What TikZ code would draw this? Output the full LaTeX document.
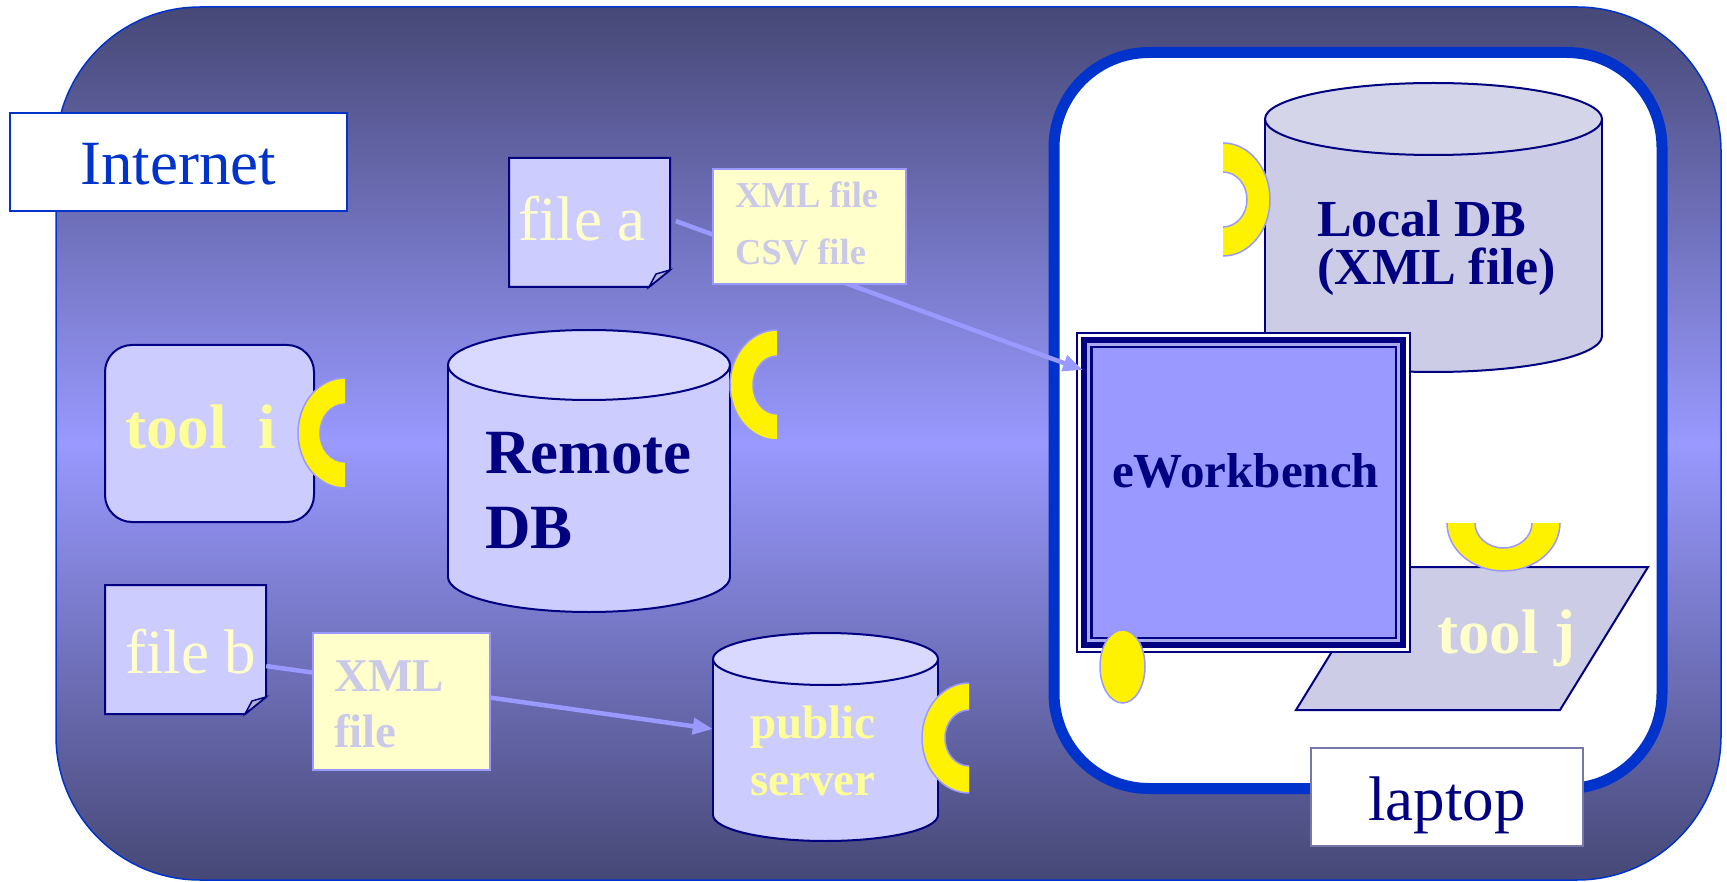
\documentclass[tikz,border=0pt]{standalone}
\usepackage{fontspec}
\setmainfont{Liberation Serif}
\usetikzlibrary{arrows.meta,shapes.geometric}
\definecolor{navy}{HTML}{000080}
\definecolor{royal}{HTML}{0033CC}
\definecolor{lav}{HTML}{CCCCFF}
\definecolor{lavtop}{HTML}{D9D9FF}
\definecolor{peri}{HTML}{9999FF}
\definecolor{grayl}{HTML}{CCCCE6}
\definecolor{graylt}{HTML}{D5D5EA}
\definecolor{paley}{HTML}{FFFFCC}
\definecolor{yel}{HTML}{FFFF99}
\definecolor{bgdark}{HTML}{464876}
\definecolor{lblgray}{HTML}{7777AA}
\definecolor{foldgray}{HTML}{B4B4D2}
\definecolor{lavframe}{HTML}{AAAAEE}
\definecolor{lbltext}{HTML}{CACAE8}

\tikzset{
  txt/.style={inner sep=0pt, anchor=base west},
  cylline/.style={draw=navy, line width=2pt},
  ringsty/.style={fill=yellow, draw=peri, line width=1.5pt},
  conn/.style={draw=peri, line width=4.5pt, -{Triangle[length=20pt,width=16pt]}},
  lblbox/.style={fill=paley, draw=peri, line width=1.5pt},
  f63/.style={font=\fontsize{63}{75}\selectfont},
  b63/.style={font=\fontsize{63}{75}\selectfont\bfseries},
  b52/.style={font=\fontsize{52}{60}\selectfont\bfseries},
  b49/.style={font=\fontsize{49}{60}\selectfont\bfseries},
  b47/.style={font=\fontsize{47}{56}\selectfont\bfseries},
  b36/.style={font=\fontsize{36.5}{44}\selectfont\bfseries},
}

% x0, x1, top-centre y, bottom-centre y, ry, body colour, top colour, name
\newcommand\mycyl[8]{%
  \pgfmathsetmacro\cylcx{(#1+#2)/2}%
  \pgfmathsetmacro\cylrx{(#2-#1)/2}%
  \pgfmathsetmacro\cylcy{(#3+#4)/2}%
  \pgfmathsetmacro\cylw{#2-#1}%
  \pgfmathsetmacro\cylh{#4-#3+2*#5}%
  \fill[#6] (#1,#3) rectangle (#2,#4);
  \fill[#6] (\cylcx,#4) ellipse[x radius=\cylrx, y radius=#5];
  \begin{scope}
    \clip (#1-5,#4) rectangle (#2+5,#4+#5+5);
    \draw[cylline] (\cylcx,#4) ellipse[x radius=\cylrx, y radius=#5];
  \end{scope}
  \draw[cylline] (#1,#3) -- (#1,#4) (#2,#3) -- (#2,#4);
  \filldraw[fill=#7, cylline] (\cylcx,#3) ellipse[x radius=\cylrx, y radius=#5];
  \node[inner sep=0pt, draw=none, minimum width=\cylw pt, minimum height=\cylh pt] (#8) at (\cylcx,\cylcy) {};
}

% cx, cy, outer rx, outer ry, inner rx, inner ry, clip corner a, clip corner b
\newcommand\myring[8]{%
  \begin{scope}
    \clip #7 rectangle #8;
    \filldraw[ringsty, even odd rule] (#1,#2) ellipse[x radius=#3, y radius=#4]
      (#1,#2) ellipse[x radius=#5, y radius=#6];
  \end{scope}
}

% x0, y0, x1, y1, name
\newcommand\myfile[5]{%
  \filldraw[fill=lav, draw=navy, line width=2pt] (#1,#2) -- (#3,#2) -- (#3,#4-17) -- (#3-21,#4) -- (#1,#4) -- cycle;
  \filldraw[fill=foldgray, draw=navy, line width=1.5pt] (#3-21,#4) -- (#3-14,#4-13) -- (#3,#4-17) -- cycle;
  \pgfmathsetmacro\filw{#3-#1}%
  \pgfmathsetmacro\filh{#4-#2}%
  \node[inner sep=0pt, draw=none, minimum width=\filw pt, minimum height=\filh pt] (#5) at ({(#1+#3)/2},{(#2+#4)/2}) {};
}

\begin{document}
\begin{tikzpicture}[x=1pt, y=-1pt]
\useasboundingbox (0,0) rectangle (1727,882);

% Internet area
\path[top color=bgdark, bottom color=bgdark, middle color=peri, rounded corners=144pt] (56,7) rectangle (1721,880);
\draw[royal, line width=1.5pt, rounded corners=144pt] (56,7) rectangle (1721,880);

% Internet label
\node[fill=white, draw=royal, line width=2pt, inner sep=0pt, minimum width=337pt, minimum height=98pt] (inetbox) at (178.5,162) {};
\node[txt, f63, text=royal] (inet) at (80,185) {Internet};

% laptop
\draw[royal, line width=11pt, fill=white, rounded corners=95pt] (1054,52.5) rectangle (1662,788.5);

% Local DB
\mycyl{1265}{1602}{119}{336}{36}{grayl}{graylt}{localdb}
\node[txt, b52, text=navy] (localdbt1) at (1317,237) {Local DB};
\node[txt, b52, text=navy] (localdbt2) at (1317,285) {(XML file)};
\myring{1223}{199.5}{47}{56.5}{24}{27.5}{(1223,130)}{(1280,270)}

% tool j
\filldraw[fill=grayl, draw=navy, line width=2pt] (1384,567) -- (1648,567) -- (1560,710) -- (1296,710) -- cycle;
\node[inner sep=0pt, draw=none, minimum width=264pt, minimum height=143pt] (toolj) at (1472,638.5) {};
\node[txt, b63, text=paley] (toolj-t) at (1437,653) {tool j};
\myring{1503.5}{523}{56.5}{48}{28.5}{25}{(1440,523)}{(1570,580)}

% eWorkbench
\node[fill=white, draw=navy, line width=2pt, inner sep=0pt, minimum width=333pt, minimum height=319pt] (ewb) at (1243.5,492.5) {};
\fill[navy] (1081,337) rectangle (1406,648);
\fill[lavframe] (1087,343) rectangle (1400,642);
\fill[navy] (1090,346) rectangle (1397,639);
\fill[peri] (1092.5,348.5) rectangle (1394.5,636.5);
\node[txt, b49, text=navy] (ewbt) at (1112,487) {eWorkbench};
\node[ellipse, fill=yellow, draw=peri, line width=1.5pt, inner sep=0pt, minimum width=45pt, minimum height=73pt] (plug) at (1122.5,666.5) {};

% laptop label
\node[fill=white, draw=lblgray, line width=1.5pt, inner sep=0pt, minimum width=272pt, minimum height=98pt] (lapbox) at (1447,797) {};
\node[txt, f63, text=navy] (lapt) at (1368,820) {laptop};

% tool i
\filldraw[fill=lav, draw=navy, line width=2pt, rounded corners=27pt] (105,345) rectangle (314,522);
\node[inner sep=0pt, draw=none, minimum width=209pt, minimum height=177pt] (tooli) at (209.5,433.5) {};
\node[txt, b63, text=yel] (toolit) at (125,448) {tool\ \ i};
\myring{345}{433}{47}{55}{25}{29}{(290,370)}{(345,495)}

% Remote DB
\mycyl{448}{730}{365}{577}{35}{lav}{lavtop}{remotedb}
\node[txt, b63, text=navy] (remotet1) at (485,473) {Remote};
\node[txt, b63, text=navy] (remotet2) at (485,548) {DB};
\myring{777}{385}{47}{55}{24}{29}{(720,320)}{(777,450)}

% public server
\mycyl{713}{938}{659}{815}{26}{lav}{lavtop}{pubsrv}
\node[txt, b47, text=yel] (pubt1) at (750,738) {public};
\node[txt, b47, text=yel] (pubt2) at (750,795) {server};
\myring{969}{738}{47}{55}{24}{28}{(910,670)}{(969,805)}

% files
\myfile{509}{158}{670}{287}{filea}
\node[txt, f63, text=paley] (fileat) at (518,241) {file a};
\myfile{105}{585}{266}{714}{fileb}
\node[txt, f63, text=paley] (filebt) at (125,673) {file b};

% connectors
\coordinate (faout) at ([yshift=3.5pt]filea.east);
\coordinate (ewbin) at (1083,370);
\draw[conn, shorten <=6pt] (faout) -- (ewbin);
\coordinate (fbout) at ([yshift=-16.5pt]fileb.east);
\coordinate (psin) at ([yshift=8pt]pubsrv.west);
\draw[conn] (fbout) -- (psin);

% connector labels
\node[lblbox, inner sep=0pt, minimum width=193pt, minimum height=115pt] (lbl1) at (809.5,226.5) {};
\node[txt, b36, text=lbltext] (lbl1a) at (735,208) {XML file};
\node[txt, b36, text=lbltext] (lbl1b) at (735,265) {CSV file};
\node[lblbox, inner sep=0pt, minimum width=177pt, minimum height=137pt] (lbl2) at (401.5,701.5) {};
\node[txt, b47, text=lbltext] (lbl2a) at (334,691) {XML};
\node[txt, b47, text=lbltext] (lbl2b) at (334,747) {file};

\end{tikzpicture}
\end{document}
